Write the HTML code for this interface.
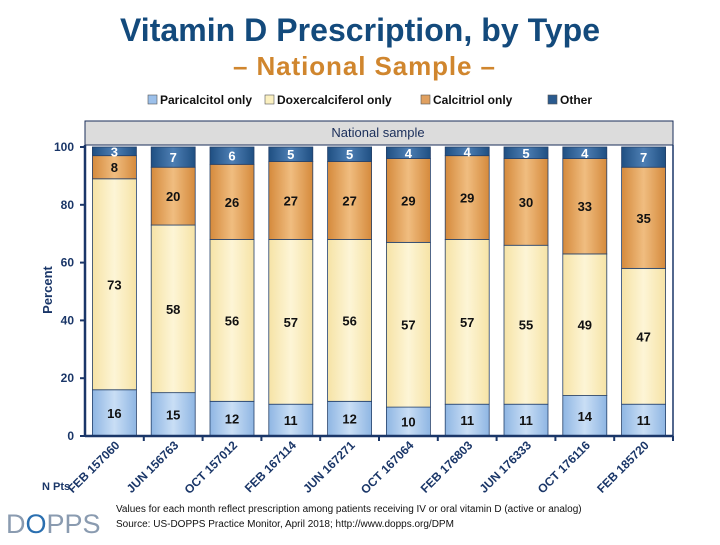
<!DOCTYPE html>
<html><head><meta charset="utf-8"><style>
body{margin:0;background:#fff;}
svg text{font-family:"Liberation Sans",Arial,sans-serif;}
</style></head><body>
<svg width="720" height="540" viewBox="0 0 720 540">
<defs>
<linearGradient id="gP" x1="0" x2="1"><stop offset="0" stop-color="#8fb6e3"/><stop offset="0.5" stop-color="#c9def5"/><stop offset="1" stop-color="#8fb6e3"/></linearGradient>
<linearGradient id="gD" x1="0" x2="1"><stop offset="0" stop-color="#f6e3a6"/><stop offset="0.5" stop-color="#fdf5d6"/><stop offset="1" stop-color="#f6e3a6"/></linearGradient>
<linearGradient id="gC" x1="0" x2="1"><stop offset="0" stop-color="#d58a3c"/><stop offset="0.5" stop-color="#f0bd80"/><stop offset="1" stop-color="#d58a3c"/></linearGradient>
<linearGradient id="gO" x1="0" x2="1"><stop offset="0" stop-color="#1f4f82"/><stop offset="0.5" stop-color="#4e7fb4"/><stop offset="1" stop-color="#1f4f82"/></linearGradient>
</defs>
<text x="360" y="41" text-anchor="middle" font-size="32" font-weight="bold" fill="#134a7c" textLength="480" lengthAdjust="spacing">Vitamin D Prescription, by Type</text>
<text x="364" y="75" text-anchor="middle" font-size="26" font-weight="bold" fill="#d0862e" textLength="262" lengthAdjust="spacing">– National Sample –</text>
<g id="legend"></g>
<rect x="85" y="121" width="588" height="24" fill="#dcdcdc" stroke="#1a2e5a" stroke-width="1"/>
<text x="378" y="137" text-anchor="middle" font-size="13" fill="#1a2e5a">National sample</text>
<g id="plot"></g>
<text transform="translate(52,290) rotate(-90)" text-anchor="middle" font-size="13" font-weight="bold" fill="#1a3668">Percent</text>
<text x="42" y="490" font-size="11" font-weight="bold" fill="#1a3668">N Pts</text>
<text x="116" y="512" font-size="10" fill="#111">Values for each month reflect prescription among patients receiving IV or oral vitamin D (active or analog)</text>
<text x="116" y="527" font-size="10" fill="#111">Source: US-DOPPS Practice Monitor, April 2018; http://www.dopps.org/DPM</text>
<text x="6" y="533" font-size="27" fill="#8a9bb0">D<tspan fill="#2a6fb0">O</tspan>PPS</text>
</svg>
<script>
const categories=["FEB 157060","JUN 156763","OCT 157012","FEB 167114","JUN 167271","OCT 167064","FEB 176803","JUN 176333","OCT 176116","FEB 185720"];
const paricalcitol=[16,15,12,11,12,10,11,11,14,11];
const doxercalciferol=[73,58,56,57,56,57,57,55,49,47];
const calcitriol=[8,20,26,27,27,29,29,30,33,35];
const other=[3,7,6,5,5,4,4,5,4,7];
const yTicks=[0,20,40,60,80,100];
const seriesNames=["Paricalcitol only","Doxercalciferol only","Calcitriol only","Other"];
const NS="http://www.w3.org/2000/svg";
const X0=85,X1=673,Y0=436,Y100=147;
const slot=(X1-X0)/categories.length, bw=44;
const y=v=>Y0-(Y0-Y100)*v/100;
const xc=i=>X0+slot*(i+0.5);
const plot=document.getElementById('plot');
function mk(tag,attrs,parent){const e=document.createElementNS(NS,tag);for(const k in attrs)e.setAttribute(k,attrs[k]);(parent||plot).appendChild(e);return e;}
const fills=["url(#gP)","url(#gD)","url(#gC)","url(#gO)"];
const keys=["paricalcitol","doxercalciferol","calcitriol","other"];
const data=[paricalcitol,doxercalciferol,calcitriol,other];
categories.forEach((c,i)=>{
  let base=0;
  data.forEach((s,k)=>{
    const v=s[i];const top=Math.min(100,base+v);
    const r=mk('rect',{x:xc(i)-bw/2,y:y(top),width:bw,height:y(base)-y(top),fill:fills[k],stroke:"#24406a","stroke-width":0.8});
    
    
    const t=mk('text',{x:xc(i),y:(y(base)+y(top))/2+5,"text-anchor":"middle","font-size":13,"font-weight":"bold",fill:k==3?"#fff":"#111"});
    t.textContent=v;
    
    
    base=top;
  });
  const tk=mk('line',{x1:X0+slot*(i+1),x2:X0+slot*(i+1),y1:Y0,y2:Y0+5,stroke:"#1a3668","stroke-width":2});
  
  
  const lx=xc(i)+6,ly=Y0+10;
  const lt=mk('text',{transform:`translate(${lx},${ly}) rotate(-45)`,"text-anchor":"end","font-size":12,"font-weight":"bold",fill:"#1a3668"});
  lt.textContent=c;
  
  
});
const ya=mk('line',{x1:X0,x2:X0,y1:Y100-2,y2:Y0,stroke:"#1a3668","stroke-width":2.5});


const xa=mk('line',{x1:X0,x2:X1,y1:Y0,y2:Y0,stroke:"#1a3668","stroke-width":2.5});


const ra=mk('line',{x1:X1,x2:X1,y1:Y100-2,y2:Y0,stroke:"#1a3668","stroke-width":1.5});


yTicks.forEach(v=>{
  const l=mk('line',{x1:X0-5,x2:X0,y1:y(v),y2:y(v),stroke:"#1a3668","stroke-width":2});
  
  
  const t=mk('text',{x:X0-11,y:y(v)+4,"text-anchor":"end","font-size":12,"font-weight":"bold",fill:"#1a3668"});
  t.textContent=v;
  
  
});
const lg=document.getElementById('legend');
const lfill=["#9cc0ea","#fbf0c0","#e0a060","#2a5a8e"];
const lx=[148,265,421,548];
seriesNames.forEach((n,k)=>{
  const r=mk('rect',{x:lx[k],y:95,width:9,height:9,fill:lfill[k],stroke:"#555","stroke-width":0.6},lg);
  
  
  const t=mk('text',{x:lx[k]+12,y:104,"font-size":12,"font-weight":"bold",fill:"#111"},lg);
  t.textContent=n;
  
  
});
</script>
</body></html>
